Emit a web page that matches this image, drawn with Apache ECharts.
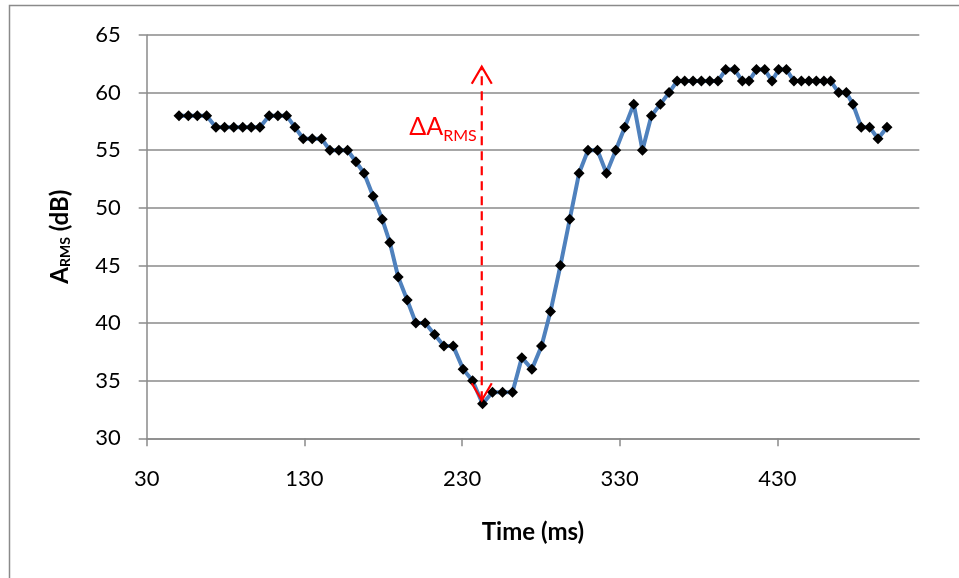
<!DOCTYPE html>
<html>
<head>
<meta charset="utf-8">
<script src="https://cdn.jsdelivr.net/npm/echarts@6/dist/echarts.min.js"></script>
<style>
  html, body { margin: 0; padding: 0; background: #ffffff; }
  #chart { width: 959px; height: 578px; }
</style>
</head>
<body>
<div id="chart"></div>
<script>
// Sample times (ms) and RMS amplitude (dB)
const times = [50.5, 56.4, 62.1, 68.0, 73.9, 79.4, 85.2, 90.9, 96.3, 101.8,
  107.7, 113.2, 118.7, 124.0, 129.3, 135.0, 140.9, 146.2, 151.9, 157.4,
  162.7, 167.9, 173.6, 179.4, 184.2, 189.5, 195.2, 200.7, 206.6, 212.6,
  218.5, 224.4, 230.7, 236.7, 243.0, 249.3, 255.7, 262.0, 267.9, 274.3,
  280.4, 286.1, 292.4, 298.3, 304.2, 309.9, 315.9, 321.6, 327.5, 333.2,
  338.9, 344.4, 350.1, 355.8, 361.3, 366.4, 371.2, 376.5, 381.8, 387.1,
  392.3, 397.2, 402.9, 407.8, 412.0, 416.7, 422.0, 426.6, 430.8, 435.7,
  440.5, 445.2, 450.0, 454.7, 459.5, 463.8, 468.9, 473.7, 477.9, 483.2,
  488.5, 493.8, 499.5];
const arms = [58, 58, 58, 58, 57, 57, 57, 57, 57, 57,
  58, 58, 58, 57, 56, 56, 56, 55, 55, 55,
  54, 53, 51, 49, 47, 44, 42, 40, 40, 39,
  38, 38, 36, 35, 33, 34, 34, 34, 37, 36,
  38, 41, 45, 49, 53, 55, 55, 53, 55, 57,
  59, 55, 58, 59, 60, 61, 61, 61, 61, 61,
  61, 62, 62, 61, 61, 62, 62, 61, 62, 62,
  61, 61, 61, 61, 61, 61, 60, 60, 59, 57,
  57, 56, 57];

// Axis ticks
const xTicks = [30, 130, 230, 330, 430];
const yTicks = [30, 35, 40, 45, 50, 55, 60, 65];

// Delta-A annotation: vertical double arrow at the dip
const arrowTime = [242.5];
const arrowFrom = [33.3];
const arrowTo = [62.25];
const labelLevel = [57.0];

const points = times.map((t, i) => [t, arms[i]]);

const gridColor = '#8a8a8a';
const fontFamily = 'Lato, "Open Sans", sans-serif';

const chart = echarts.init(document.getElementById('chart'), null, { renderer: 'canvas' });

chart.setOption({
  animation: false,
  backgroundColor: '#ffffff',
  graphic: [{
    type: 'polyline',
    silent: true,
    shape: { points: [[9.5, 600], [9.5, 5.5], [962, 5.5]] },
    style: { stroke: gridColor, lineWidth: 1.5, fill: null }
  }],
  grid: { left: 146.7, right: 39.7, top: 35, bottom: 139.7 },
  xAxis: {
    type: 'value',
    min: xTicks[0],
    max: 520,
    interval: 100,
    name: 'Time (ms)',
    nameLocation: 'middle',
    nameGap: 82,
    nameTextStyle: { fontFamily, fontWeight: 'bold', fontSize: 24, color: '#000' },
    axisLine: { show: true, lineStyle: { color: gridColor, width: 1.5 } },
    axisTick: { show: true, length: 8, inside: false, customValues: xTicks, lineStyle: { color: gridColor, width: 1.5 } },
    axisLabel: { customValues: xTicks, margin: 30, fontFamily, fontSize: 22, color: '#000' },
    splitLine: { show: false }
  },
  yAxis: {
    type: 'value',
    min: yTicks[0],
    max: yTicks[yTicks.length - 1],
    interval: 5,
    name: '{a|A}{s|RMS}{a| (dB)}',
    nameLocation: 'middle',
    nameGap: 74,
    nameRotate: 90,
    nameTextStyle: {
      fontFamily, fontWeight: 'bold', color: '#000',
      rich: {
        a: { fontFamily, fontWeight: 'bold', fontSize: 24, lineHeight: 24, verticalAlign: 'top', color: '#000' },
        s: { fontFamily, fontWeight: 'bold', fontSize: 14, lineHeight: 14, verticalAlign: 'top', padding: [10, 0, 0, 0], color: '#000' }
      }
    },
    axisLine: { show: true, lineStyle: { color: gridColor, width: 1.5 } },
    axisTick: { show: true, length: 8, inside: false, lineStyle: { color: gridColor, width: 1.5 } },
    axisLabel: { margin: 26, fontFamily, fontSize: 22, color: '#000' },
    splitLine: { show: true, lineStyle: { color: gridColor, width: 1.5 } }
  },
  series: [
    {
      type: 'line',
      data: points,
      symbol: 'diamond',
      symbolSize: 11,
      showAllSymbol: true,
      itemStyle: { color: '#000000' },
      lineStyle: { color: '#4f81bd', width: 4 },
      z: 3
    },
    {
      type: 'custom',
      coordinateSystem: 'cartesian2d',
      data: arrowTime.map((t, i) => [t, arrowFrom[i], arrowTo[i], labelLevel[i]]),
      encode: { x: 0, y: [1, 2] },
      z: 5,
      renderItem(params, api) {
        const t = api.value(0);
        const lo = api.coord([t, api.value(1)]);
        const hi = api.coord([t, api.value(2)]);
        const lab = api.coord([t, api.value(3)]);
        const w = 10, h = 17;
        const red = '#ff0000';
        return {
          type: 'group',
          children: [
            {
              type: 'line',
              shape: { x1: lo[0], y1: lo[1], x2: hi[0], y2: hi[1] },
              style: { stroke: red, lineWidth: 2.2, lineDash: [9, 6] }
            },
            {
              type: 'polyline',
              shape: { points: [[hi[0] - w, hi[1] + h], [hi[0], hi[1]], [hi[0] + w, hi[1] + h]] },
              style: { stroke: red, lineWidth: 2.2, fill: null }
            },
            {
              type: 'polyline',
              shape: { points: [[lo[0] - w, lo[1] - h], [lo[0], lo[1]], [lo[0] + w, lo[1] - h]] },
              style: { stroke: red, lineWidth: 2.2, fill: null }
            },
            {
              type: 'text',
              x: lab[0] - 5,
              y: lab[1],
              style: {
                text: '{a|ΔA}{s|RMS}',
                align: 'right',
                verticalAlign: 'middle',
                rich: {
                  a: { fontFamily, fontSize: 25, lineHeight: 25, verticalAlign: 'top', fill: red },
                  s: { fontFamily, fontSize: 16, lineHeight: 16, verticalAlign: 'top', padding: [13, 0, 0, 0], fill: red }
                }
              }
            }
          ]
        };
      }
    }
  ]
});
</script>
</body>
</html>
